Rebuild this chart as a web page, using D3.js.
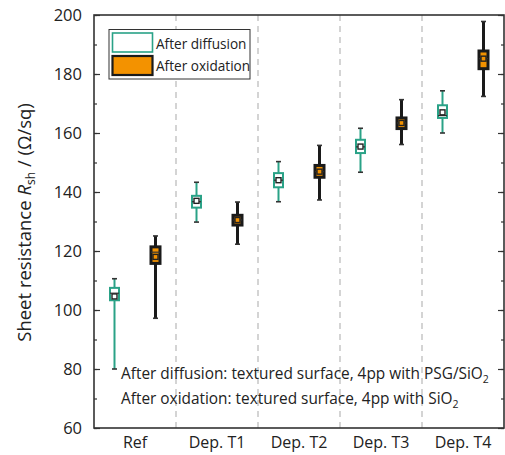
<!DOCTYPE html>
<html><head><meta charset="utf-8">
<script src="https://cdn.jsdelivr.net/npm/d3@7"></script>
<style>body{margin:0;background:#fff}svg{display:block}text{font-family:"Open Sans","Noto Sans",sans-serif;fill:#222}</style>
</head><body>
<script>
const categories = ["Ref","Dep. T1","Dep. T2","Dep. T3","Dep. T4"];
const series = ["After diffusion","After oxidation"];
// diffusion
const diffMin  = [80.0, 129.8, 136.7, 146.7, 160.0];
const diffQ1   = [103.3, 134.7, 141.6, 153.2, 165.1];
const diffMed  = [105.7, 136.7, 144.0, 155.3, 165.9];
const diffQ3   = [107.5, 138.7, 146.4, 157.7, 169.4];
const diffMax  = [110.6, 143.3, 150.3, 161.6, 174.3];
const diffMean = [104.6, 137.0, 144.0, 155.4, 167.0];
// oxidation
const oxMin  = [97.2, 122.3, 137.3, 156.1, 172.4];
const oxQ1   = [115.8, 128.8, 145.0, 161.5, 181.8];
const oxMed  = [119.6, 130.5, 146.9, 163.4, 185.2];
const oxQ3   = [121.4, 132.1, 149.0, 165.1, 187.8];
const oxMax  = [125.1, 136.6, 155.8, 171.3, 197.8];
const oxMean = [118.0, 130.5, 146.9, 163.4, 185.2];
const yTicks = [60,80,100,120,140,160,180,200];

const W=505,H=455, L=94,R=504,T=15,B=428;
const svg=d3.select("body").append("svg").attr("width",W).attr("height",H);
const x=d3.scaleBand().domain(categories).range([L,R]);
const xs=d3.scalePoint().domain(series).range([0,x.bandwidth()]).padding(0.5);
const y=d3.scaleLinear().domain([60,200]).range([B,T]);
const teal="#2aa287", orange="#f39200", dark="#1a1a1a";

// separators
svg.selectAll("line.sep").data(categories.slice(1)).join("line")
  .attr("x1",d=>x(d)).attr("x2",d=>x(d)).attr("y1",T).attr("y2",B)
  .attr("stroke","#b8b8b8").attr("stroke-width",1.2).attr("stroke-dasharray","6,5");

// axes
const minor=d3.range(60,201,10);
const gl=svg.append("g").attr("transform",`translate(${L},0)`)
  .call(d3.axisLeft(y).tickValues(minor).tickSize(-3).tickFormat(""));
gl.select(".domain").remove();
gl.selectAll("line").attr("stroke","#333").attr("stroke-width",1.2);
const gL=svg.append("g").attr("transform",`translate(${L},0)`)
  .call(d3.axisLeft(y).tickValues(yTicks).tickSize(-6).tickPadding(12).tickFormat(d3.format("d")));
gL.select(".domain").remove();
gL.selectAll("line").attr("stroke","#333").attr("stroke-width",1.2);
gL.selectAll("text").style("font-size","16.5px").attr("fill","#222").style("font-family",'"Open Sans",sans-serif');
const gr=svg.append("g").attr("transform",`translate(${R},0)`)
  .call(d3.axisRight(y).tickValues(minor).tickSize(-3).tickFormat(""));
gr.select(".domain").remove();
gr.selectAll("line").attr("stroke","#333").attr("stroke-width",1.2);
const gR=svg.append("g").attr("transform",`translate(${R},0)`)
  .call(d3.axisRight(y).tickValues(yTicks).tickSize(-6).tickFormat(""));
gR.select(".domain").remove();
gR.selectAll("line").attr("stroke","#333").attr("stroke-width",1.2);
const gB=svg.append("g").attr("transform",`translate(0,${B})`)
  .call(d3.axisBottom(x).tickSize(0).tickPadding(9));
gB.select(".domain").remove();
gB.selectAll("text").style("font-size","16px").attr("fill","#222").style("font-family",'"Open Sans",sans-serif');
svg.append("rect").attr("x",L).attr("y",T).attr("width",R-L).attr("height",B-T)
  .attr("fill","none").attr("stroke","#333").attr("stroke-width",1.6);

// y title
const yt=svg.append("text").attr("transform",`translate(31,${(T+B)/2 + 1}) rotate(-90)`)
  .attr("text-anchor","middle").style("font-size","18.5px");
yt.append("tspan").text("Sheet resistance ");
yt.append("tspan").text("R").style("font-style","italic");
yt.append("tspan").text("sh").attr("dy",4).style("font-size","12px");
yt.append("tspan").text(" / (Ω/sq)").attr("dy",-4);

// boxes
function drawBox(vals,name,stroke,fill,sw,bw){
  const g=svg.append("g");
  categories.forEach((c,i)=>{
    const cx=x(c)+xs(name);
    g.append("line").attr("x1",cx).attr("x2",cx).attr("y1",y(vals.max[i])).attr("y2",y(vals.min[i]))
      .attr("stroke",stroke).attr("stroke-width",sw);
    [vals.max[i],vals.min[i]].forEach(v=>g.append("line").attr("x1",cx-2.5).attr("x2",cx+2.5)
      .attr("y1",y(v)).attr("y2",y(v)).attr("stroke","#333").attr("stroke-width",1.6));
    g.append("rect").attr("x",cx-bw/2).attr("width",bw).attr("y",y(vals.q3[i]))
      .attr("height",y(vals.q1[i])-y(vals.q3[i])).attr("fill",fill).attr("stroke",stroke).attr("stroke-width",sw);
    g.append("line").attr("x1",cx-bw/2).attr("x2",cx+bw/2).attr("y1",y(vals.med[i])).attr("y2",y(vals.med[i]))
      .attr("stroke","#333").attr("stroke-width",1.2);
    g.append("rect").attr("x",cx-2.5).attr("y",y(vals.mean[i])-2.5).attr("width",5).attr("height",5)
      .attr("fill",fill).attr("stroke","#222").attr("stroke-width",1.4);
  });
}
drawBox({min:diffMin,q1:diffQ1,med:diffMed,q3:diffQ3,max:diffMax,mean:diffMean},series[0],teal,"#fff",2,9);
drawBox({min:oxMin,q1:oxQ1,med:oxMed,q3:oxQ3,max:oxMax,mean:oxMean},series[1],dark,orange,3,9);

// legend
const lg=svg.append("g");
lg.append("rect").attr("x",109).attr("y",29.5).attr("width",141).attr("height",49.5)
  .attr("fill","#fff").attr("stroke","#333").attr("stroke-width",1);
lg.append("rect").attr("x",112.5).attr("y",33).attr("width",40).attr("height",19)
  .attr("fill","#fff").attr("stroke",teal).attr("stroke-width",1.6);
lg.append("rect").attr("x",112.5).attr("y",56).attr("width",40).attr("height",19)
  .attr("fill",orange).attr("stroke",dark).attr("stroke-width",2.2);
series.forEach((s,i)=>lg.append("text").attr("x",156).attr("y",48.5+i*22.5).text(s).style("font-size","13.6px"));

// annotation
const notes=[["After diffusion: textured surface, 4pp with PSG/SiO","2"],["After oxidation: textured surface, 4pp with SiO","2"]];
notes.forEach((n,i)=>{
  const t=svg.append("text").attr("x",121).attr("y",379+i*25).style("font-size","15.4px");
  t.append("tspan").text(n[0]);
  t.append("tspan").text(n[1]).attr("dy",4).style("font-size","10.5px");
});
</script>
</body></html>
